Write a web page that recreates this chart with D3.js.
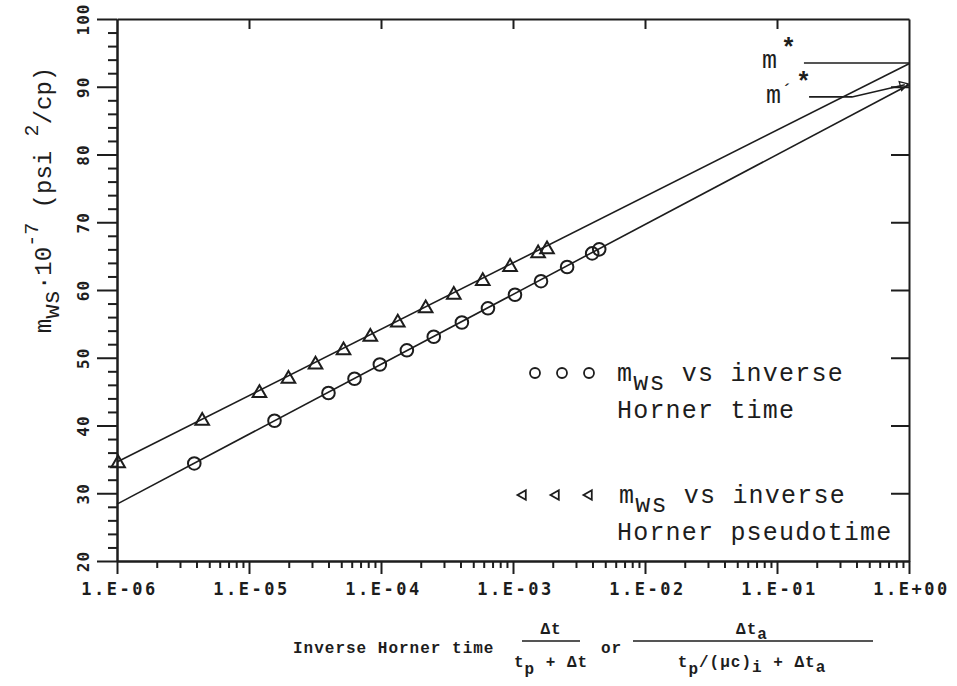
<!DOCTYPE html>
<html>
<head>
<meta charset="utf-8">
<script src="https://cdn.jsdelivr.net/npm/d3@7"></script>
<style>
  body { margin: 0; background: #fff; }
  svg { display: block; }
</style>
</head>
<body>
<div id="chart"></div>
<script>
// m_ws * 1e-7 (psi^2/cp) - same pressure readings for both time transforms
const mwsValues = [34.4, 40.7, 44.8, 46.9, 49.0, 51.1, 53.1, 55.2, 57.3, 59.3, 61.3, 63.4, 65.4, 66.0];
// inverse Horner time  dt/(tp+dt)
const hornerTime = [3.85e-6, 1.56e-5, 4.0e-5, 6.3e-5, 9.8e-5, 1.57e-4, 2.51e-4, 4.1e-4, 6.46e-4, 1.035e-3, 1.63e-3, 2.57e-3, 3.98e-3, 4.5e-3];
// inverse Horner pseudotime  dta/(tp/(uc)i+dta)
const hornerPseudotime = [1.02e-6, 4.42e-6, 1.2e-5, 1.99e-5, 3.19e-5, 5.2e-5, 8.3e-5, 1.34e-4, 2.18e-4, 3.56e-4, 5.9e-4, 9.5e-4, 1.55e-3, 1.81e-3];

// straight-line fits (end points at x = 1e-6 and x = 1)
const fitTime = [[1e-6, 28.4], [1, 90.3]];
const fitPseudotime = [[1e-6, 34.6], [1, 93.4]];

// m* and m'* read-offs
const mStar = 93.5;
const mPrimeStar = 88.5;

const xTickValues = [1e-6, 1e-5, 1e-4, 1e-3, 1e-2, 1e-1, 1];
const xTickLabels = ['1.E-06', '1.E-05', '1.E-04', '1.E-03', '1.E-02', '1.E-01', '1.E+00'];
const yTickValues = [20, 30, 40, 50, 60, 70, 80, 90, 100];

const dimensions = {
  width: 957,
  height: 686,
  left: 117,
  right: 909,
  top: 19,
  bottom: 561
};

const ink = '#1d1d1d';
const typeFont = '"Liberation Mono", "DejaVu Sans Mono", monospace';
const plotFont = '"DejaVu Sans Mono", monospace';

const svg = d3.select('#chart')
  .append('svg')
  .attr('width', dimensions.width)
  .attr('height', dimensions.height)
  .style('background', '#fff');

const xScale = d3.scaleLog()
  .domain([1e-6, 1])
  .range([dimensions.left, dimensions.right]);

const yScale = d3.scaleLinear()
  .domain([20, 100])
  .range([dimensions.bottom, dimensions.top]);

// minor ticks: 2..9 in each decade, every 2 units on y
const xMinor = [];
xTickValues.slice(0, -1).forEach(d => {
  for (let k = 2; k <= 9; k++) xMinor.push(d * k);
});
const yMinor = d3.range(22, 100, 2).filter(v => v % 10 !== 0);

function styleAxis(g) {
  g.selectAll('path, line')
    .attr('stroke', ink)
    .attr('stroke-width', 2);
}

// bottom axis
svg.append('g')
  .attr('transform', `translate(0,${dimensions.bottom})`)
  .call(d3.axisBottom(xScale).tickValues(xMinor).tickSize(7).tickSizeOuter(0).tickFormat(''))
  .call(styleAxis);

const xAxisGroup = svg.append('g')
  .attr('transform', `translate(0,${dimensions.bottom})`)
  .call(d3.axisBottom(xScale)
    .tickValues(xTickValues)
    .tickSize(13)
    .tickSizeOuter(0)
    .tickFormat((d, i) => xTickLabels[i]))
  .call(styleAxis);

xAxisGroup.selectAll('text')
  .attr('y', 34)
  .attr('dy', 0)
  .attr('dx', 2)
  .attr('fill', ink)
  .style('font-family', plotFont)
  .style('font-size', '17px')
  .style('font-weight', 'bold')
  .style('letter-spacing', '2.5px');

// top border with inward decade ticks
svg.append('g')
  .attr('transform', `translate(0,${dimensions.top})`)
  .call(d3.axisTop(xScale).tickValues(xTickValues.slice(1, -1)).tickSize(-10).tickSizeOuter(0).tickFormat(''))
  .call(styleAxis);

// left axis
svg.append('g')
  .attr('transform', `translate(${dimensions.left},0)`)
  .call(d3.axisLeft(yScale).tickValues(yMinor).tickSize(9).tickSizeOuter(0).tickFormat(''))
  .call(styleAxis);

const yAxisGroup = svg.append('g')
  .attr('transform', `translate(${dimensions.left},0)`)
  .call(d3.axisLeft(yScale).tickValues(yTickValues).tickSize(20).tickSizeOuter(0))
  .call(styleAxis);

// tick labels are written sideways, reading upwards
// (each tick group is already moved to its y, so only shift left here)
yAxisGroup.selectAll('text')
  .attr('x', 0)
  .attr('y', 0)
  .attr('dy', 0)
  .attr('text-anchor', 'middle')
  .attr('transform', 'translate(-28,0) rotate(-90)')
  .attr('fill', ink)
  .style('font-family', plotFont)
  .style('font-size', '16px')
  .style('font-weight', 'bold')
  .style('letter-spacing', '1px');

// right border with inward ticks
svg.append('g')
  .attr('transform', `translate(${dimensions.right},0)`)
  .call(d3.axisRight(yScale).tickValues(yTickValues.slice(1, -1)).tickSize(-18).tickSizeOuter(0).tickFormat(''))
  .call(styleAxis);

// fitted lines
const line = d3.line()
  .x(d => xScale(d[0]))
  .y(d => yScale(d[1]));

svg.append('g')
  .selectAll('path')
  .data([fitTime, fitPseudotime])
  .join('path')
  .attr('d', line)
  .attr('fill', 'none')
  .attr('stroke', ink)
  .attr('stroke-width', 1.6);

// m* and m'* leaders
svg.append('path')
  .attr('d', line([[0.16, mStar], [1, mStar]]))
  .attr('fill', 'none')
  .attr('stroke', ink)
  .attr('stroke-width', 1.6);

svg.append('path')
  .attr('d', line([[0.175, mPrimeStar], [0.37, mPrimeStar], [0.93, fitTime[1][1]]]))
  .attr('fill', 'none')
  .attr('stroke', ink)
  .attr('stroke-width', 1.6);

svg.append('path')
  .attr('d', d3.symbol(d3.symbolTriangle, 36)())
  .attr('transform', `translate(${xScale(0.9)},${yScale(fitTime[1][1] - 0.1)}) rotate(74)`)
  .attr('fill', 'none')
  .attr('stroke', ink)
  .attr('stroke-width', 1.3);

const annot = svg.append('g')
  .attr('fill', ink)
  .style('font-family', typeFont)
  .style('font-size', '25px');

const mStarText = annot.append('text')
  .attr('x', 762)
  .attr('y', yScale(mStar) + 5);
mStarText.append('tspan').text('m');
mStarText.append('tspan').attr('x', 781).attr('dy', -12).style('font-weight', 'bold').text('*');

const mPrimeText = annot.append('text')
  .attr('x', 766)
  .attr('y', yScale(mPrimeStar) + 6);
mPrimeText.append('tspan').text('m');
mPrimeText.append('tspan').attr('x', 781).attr('dy', -5).style('font-size', '20px').text('\u00b4');
mPrimeText.append('tspan').attr('x', 796).attr('dy', -8).style('font-weight', 'bold').text('*');

// data points
svg.append('g')
  .selectAll('circle')
  .data(hornerTime)
  .join('circle')
  .attr('cx', d => xScale(d))
  .attr('cy', (d, i) => yScale(mwsValues[i]))
  .attr('r', 6.3)
  .attr('fill', 'none')
  .attr('stroke', ink)
  .attr('stroke-width', 2);

const triangle = d3.symbol(d3.symbolTriangle, 80);

svg.append('g')
  .selectAll('path')
  .data(hornerPseudotime)
  .join('path')
  .attr('d', triangle)
  .attr('transform', (d, i) => `translate(${xScale(d)},${yScale(mwsValues[i])})`)
  .attr('fill', 'none')
  .attr('stroke', ink)
  .attr('stroke-width', 2);

// legend
const legend = svg.append('g')
  .attr('fill', ink)
  .style('font-family', typeFont)
  .style('font-size', '25px')
  .style('letter-spacing', '1.2px');

legend.append('g')
  .selectAll('circle')
  .data([535, 562, 589])
  .join('circle')
  .attr('cx', d => d)
  .attr('cy', 373)
  .attr('r', 5)
  .attr('fill', 'none')
  .attr('stroke', ink)
  .attr('stroke-width', 1.8);

legend.append('g')
  .selectAll('path')
  .data([523, 556, 589])
  .join('path')
  .attr('d', d3.symbol(d3.symbolTriangle, 40))
  .attr('transform', d => `translate(${d},495) rotate(-90)`)
  .attr('fill', 'none')
  .attr('stroke', ink)
  .attr('stroke-width', 1.8);

function legendEntry(x, y, second) {
  const t = legend.append('text').attr('x', x).attr('y', y);
  t.append('tspan').text('m');
  t.append('tspan').attr('dy', 9).text('ws');
  t.append('tspan').attr('dy', -9).text(' vs inverse');
  legend.append('text').attr('x', 617).attr('y', y + 37).text(second);
}
legendEntry(617, 381, 'Horner time');
legendEntry(619, 503, 'Horner pseudotime');

// y axis title
const yTitle = svg.append('text')
  .attr('transform', 'translate(51,200) rotate(-90)')
  .attr('text-anchor', 'middle')
  .attr('fill', ink)
  .style('font-family', typeFont)
  .style('font-size', '24px');
yTitle.append('tspan').text('m');
yTitle.append('tspan').attr('dy', 8).text('ws');
yTitle.append('tspan').attr('dy', -8).text('\u00b710');
yTitle.append('tspan').attr('dy', -13).style('font-size', '20px').text('-7');
yTitle.append('tspan').attr('dy', 13).text(' (psi ');
yTitle.append('tspan').attr('dy', -13).style('font-size', '20px').text('2');
yTitle.append('tspan').attr('dy', 13).text('/cp)');

// x axis title with the two fractions
const xTitle = svg.append('g')
  .attr('fill', ink)
  .style('font-family', typeFont)
  .style('font-size', '16px')
  .style('font-weight', 'bold')
  .style('letter-spacing', '1px');

xTitle.append('text').attr('x', 293).attr('y', 653).text('Inverse Horner time');

xTitle.append('text').attr('x', 551).attr('y', 634).attr('text-anchor', 'middle').text('\u0394t');
const d1 = xTitle.append('text').attr('x', 551).attr('y', 667).attr('text-anchor', 'middle');
d1.append('tspan').text('t');
d1.append('tspan').attr('dy', 7).text('p');
d1.append('tspan').attr('dy', -7).text(' + \u0394t');

xTitle.append('text').attr('x', 601).attr('y', 653).text('or');

const n2 = xTitle.append('text').attr('x', 752).attr('y', 634).attr('text-anchor', 'middle');
n2.append('tspan').text('\u0394t');
n2.append('tspan').attr('dy', 5).text('a');
const d2 = xTitle.append('text').attr('x', 752).attr('y', 667).attr('text-anchor', 'middle');
d2.append('tspan').text('t');
d2.append('tspan').attr('dy', 7).text('p');
d2.append('tspan').attr('dy', -7).text('/(\u03bcc)');
d2.append('tspan').attr('dy', 5).text('i');
d2.append('tspan').attr('dy', -5).text(' + \u0394t');
d2.append('tspan').attr('dy', 5).text('a');

xTitle.selectAll('line')
  .data([[522, 580], [633, 873]])
  .join('line')
  .attr('x1', d => d[0])
  .attr('x2', d => d[1])
  .attr('y1', 641)
  .attr('y2', 641)
  .attr('stroke', ink)
  .attr('stroke-width', 1.6);
</script>
</body>
</html>
